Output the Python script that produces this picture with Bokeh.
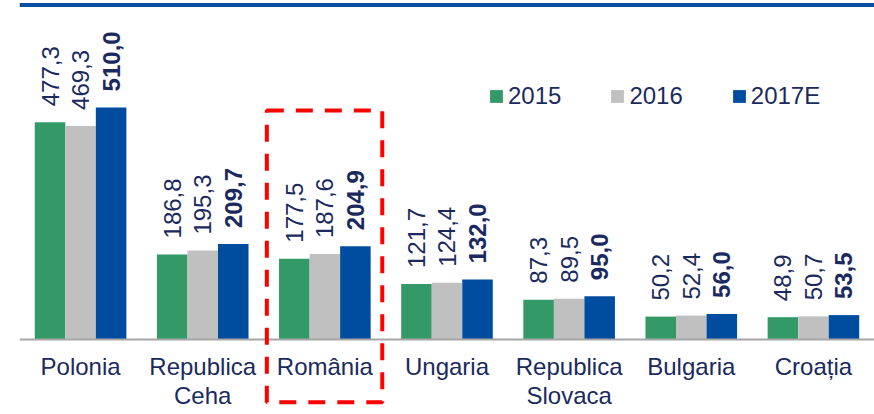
from bokeh.plotting import figure
from bokeh.models import ColumnDataSource, FactorRange, Range1d, Span, BoxAnnotation, Legend, LegendItem
from bokeh.transform import dodge
from bokeh.core.properties import value
from bokeh.embed import file_html
from bokeh.resources import INLINE

categories = ["Polonia", "Republica\nCeha", "România", "Ungaria", "Republica\nSlovaca", "Bulgaria", "Croația"]
series_names = ["2015", "2016", "2017E"]
v2015 = [477.3, 186.8, 177.5, 121.7, 87.3, 50.2, 48.9]
v2016 = [469.3, 195.3, 187.6, 124.4, 89.5, 52.4, 50.7]
v2017 = [510.0, 209.7, 204.9, 132.0, 95.0, 56.0, 53.5]
highlight = "România"

colors = ["#339966", "#C0C0C0", "#004C9E"]
text_color = "#1B2A5E"
FONT = "Liberation Sans"

def fmt(v):
    return f"{v:.1f}".replace(".", ",")

src = ColumnDataSource(dict(
    cat=categories,
    a=v2015, b=v2016, c=v2017,
    la=[fmt(v) for v in v2015],
    lb=[fmt(v) for v in v2016],
    lc=[fmt(v) for v in v2017],
    zero=[0] * len(categories),
))

p = figure(width=874, height=414, output_backend="svg", toolbar_location=None,
           x_range=FactorRange(factors=categories, range_padding=0),
           y_range=Range1d(-165, 745),
           min_border_left=19, min_border_right=0, min_border_top=0, min_border_bottom=0)
p.xaxis.visible = False
p.yaxis.visible = False
p.xgrid.visible = False
p.ygrid.visible = False
p.outline_line_color = None

offsets = [-0.25, 0.0, 0.25]
cols = ["a", "b", "c"]
lcols = ["la", "lb", "lc"]
renderers = []
for off, col, color, lcol, i in zip(offsets, cols, colors, lcols, range(3)):
    r = p.vbar(x=dodge("cat", off, range=p.x_range), top=col, width=0.25, bottom=0,
               source=src, fill_color=color, line_color=None)
    renderers.append(r)
    p.text(x=dodge("cat", off, range=p.x_range), y=col, text=lcol, source=src,
           angle=1.5708, text_align="left", text_baseline="middle", y_offset=-16,
           text_font=value(FONT), text_font_size="24px", text_color=text_color,
           text_font_style="bold" if i == 2 else "normal")

# baseline and top rule
p.add_layout(Span(location=0, dimension="width", line_color="#A6A6A6", line_width=2))
p.add_layout(Span(location=735, dimension="width", line_color="#0B4EA2", line_width=4))

# category labels
p.text(x="cat", y="zero", text="cat", source=src, text_align="center", text_baseline="top",
       y_offset=14, text_font=value(FONT), text_font_size="24px", text_color=text_color,
       text_line_height=1.05)

# highlight box
idx = categories.index(highlight)
p.add_layout(BoxAnnotation(left=idx + 0.5 - 0.475, right=idx + 0.5 + 0.470, top=503, bottom=-138,
                           fill_alpha=0, line_color="#FF0000", line_alpha=1.0,
                           line_width=4, line_dash="17 12"))

legend = Legend(items=[LegendItem(label=n, renderers=[r]) for n, r in zip(series_names, renderers)],
                orientation="horizontal", location=(469, 304), padding=0, margin=0,
                spacing=48, glyph_width=16, glyph_height=16, label_standoff=4,
                label_text_font=FONT, label_text_font_size="24px", label_text_color=text_color,
                border_line_color=None, background_fill_alpha=0)
p.add_layout(legend)

open("out.html", "w").write(file_html(p, INLINE))
